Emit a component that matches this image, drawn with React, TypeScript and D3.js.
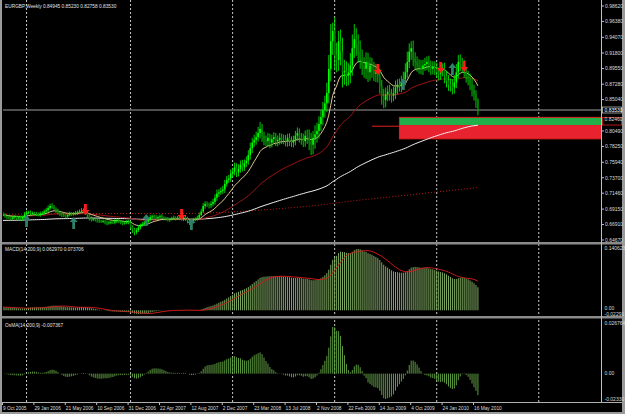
import React, { useMemo } from 'react';
import * as d3 from 'd3';

// ---------- DATA (weekly EURGBP, prices x10000, first bar = 9 Oct 2005) ----------
const firstOpen = 6850;
const closes = [
  6835, 6815, 6800, 6790, 6775, 6795, 6805, 6785, 6790, 6775, 6800, 6840,
  6865, 6870, 6855, 6860, 6850, 6845, 6830, 6850, 6860, 6880, 6900, 6930, 6960,
  6950, 6920, 6890, 6860, 6840, 6830, 6820, 6810, 6830, 6850, 6840, 6850, 6860,
  6870, 6880, 6890, 6880, 6860, 6830, 6780, 6760, 6770, 6760, 6750, 6740, 6735,
  6740, 6720, 6710, 6720, 6730, 6720, 6740, 6750, 6730, 6720, 6710, 6720, 6730,
  6720, 6660, 6620, 6580, 6610, 6650, 6680, 6700, 6720, 6730, 6760, 6800, 6810,
  6800, 6790, 6800, 6810, 6790, 6780, 6770, 6760, 6770, 6780, 6790, 6780, 6790,
  6780, 6770, 6800, 6780, 6750, 6720, 6730, 6760, 6770, 6790, 6830, 6880, 6960,
  6990, 6980, 6970, 6990, 7020, 7080, 7140, 7160, 7180, 7200, 7280, 7340, 7360,
  7430, 7460, 7520, 7450, 7500, 7560, 7520, 7580, 7620, 7700, 7800, 7880, 7920,
  7960, 8020, 8080, 7980, 7920, 7900, 7950, 7880, 7930, 7960, 7900, 7920, 7950,
  7930, 7920, 7900, 7950, 7900, 7880, 7920, 7980, 8020, 7950, 7930, 7900, 7980,
  7960, 7900, 7850, 7950, 8000, 8050, 8150, 8250, 8350, 8450, 8600, 8950, 9350,
  9500, 9150, 9080, 9350, 9200, 8900, 8920, 8850, 8900, 9000, 9250, 9380, 9300,
  9200, 9100, 9000, 8950, 9050, 8900, 9000, 8950, 8880, 8900, 8850, 8700, 8550,
  8500, 8580, 8620, 8580, 8560, 8600, 8680, 8720, 8700, 8750, 8800, 8900, 9050,
  9200, 9250, 9100, 9050, 9000, 8980, 8950, 9000, 9020, 9050, 9000, 8950, 8980,
  8950, 8900, 8880, 8920, 8950, 8850, 8780, 8720, 8700, 8680, 8750, 8900, 9050,
  9020, 8980, 8900, 8850, 8800, 8720, 8650, 8580, 8495, 8353,
];
const wickUp = [
  25, 20, 15, 30, 20, 25, 20, 15, 25, 30, 20, 35,
  30, 20, 25, 20, 15, 25, 20, 30, 25, 30, 35, 40, 35,
  40, 25, 20, 30, 20, 25, 30, 20, 25, 30, 20, 25, 30,
  25, 30, 40, 35, 30, 20, 25, 30, 20, 25, 20, 25, 20,
  25, 20, 30, 25, 20, 25, 30, 20, 25, 20, 25, 20, 25,
  30, 25, 20, 25, 30, 35, 25, 30, 25, 30, 35, 30, 25,
  25, 30, 20, 25, 30, 20, 25, 30, 20, 25, 30, 20, 25,
  30, 45, 25, 30, 25, 20, 25, 30, 25, 30, 35, 40, 45,
  40, 35, 30, 40, 45, 50, 60, 45, 50, 55, 60, 55, 50,
  60, 55, 70, 60, 65, 60, 70, 55, 60, 70, 80, 70, 75,
  80, 90, 100, 70, 60, 65, 70, 60, 65, 70, 60, 65, 70,
  60, 65, 70, 60, 65, 70, 60, 70, 80, 65, 70, 80, 75,
  90, 110, 120, 100, 130, 120, 110, 100, 120, 110, 150, 200, 250,
  120, 200, 180, 150, 170, 200, 160, 140, 130, 180, 200, 220, 160,
  150, 160, 130, 120, 140, 130, 120, 110, 100, 120, 110, 100, 90,
  110, 100, 90, 100, 80, 90, 100, 80, 90, 100, 110, 130, 150,
  120, 100, 110, 90, 80, 90, 100, 80, 90, 80, 90, 70, 80,
  80, 90, 70, 100, 80, 90, 70, 80, 90, 100, 110, 120, 100,
  110, 90, 100, 80, 70, 80, 90, 70, 60, 28,
];
const wickDown = [
  20, 25, 30, 20, 25, 15, 20, 30, 20, 25, 30, 20,
  20, 25, 30, 20, 25, 30, 20, 25, 20, 25, 20, 30, 25,
  30, 25, 30, 20, 25, 30, 20, 25, 30, 20, 25, 20, 25,
  30, 25, 20, 25, 30, 35, 30, 25, 20, 25, 30, 25, 20,
  20, 25, 30, 20, 25, 20, 25, 30, 20, 25, 30, 20, 25,
  25, 40, 50, 45, 30, 25, 30, 20, 25, 30, 20, 25, 30,
  20, 25, 30, 20, 25, 30, 20, 25, 30, 20, 25, 30, 20,
  25, 20, 30, 35, 40, 35, 30, 25, 20, 25, 30, 20, 25,
  40, 35, 45, 40, 35, 40, 45, 50, 40, 45, 50, 40, 45,
  50, 60, 55, 70, 60, 55, 60, 50, 55, 60, 65, 70, 60,
  70, 65, 80, 90, 80, 70, 75, 80, 70, 65, 70, 75, 70,
  70, 65, 75, 80, 70, 65, 70, 80, 75, 70, 80, 85, 80,
  100, 130, 150, 140, 160, 120, 110, 100, 120, 110, 130, 150, 180,
  200, 220, 180, 160, 200, 220, 180, 150, 140, 160, 150, 140, 160,
  160, 150, 140, 130, 150, 140, 120, 130, 110, 120, 100, 110, 120,
  120, 110, 100, 90, 100, 80, 90, 100, 80, 90, 100, 90, 80,
  90, 120, 110, 100, 90, 100, 80, 90, 80, 90, 100, 90, 80,
  90, 80, 100, 90, 80, 110, 100, 90, 80, 100, 90, 80, 90,
  100, 90, 80, 100, 90, 80, 100, 90, 110, 77,
];

// indicator seeds (values of the averages at the first visible bar)
const seedFast = 0.683;   // EMA 14
const seedMid = 0.682;    // EMA 55
const seedSlow = 0.675;   // EMA 200
// long dotted average at some weeks
const longMaWeeks = [0, 20, 40, 60, 80, 100, 120, 140, 160, 180, 200, 220, 242];
const longMaValues = [0.684, 0.6845, 0.685, 0.685, 0.685, 0.6855, 0.688, 0.692, 0.697, 0.704, 0.710, 0.716, 0.723];

const timeLabelWeeks = [0, 16, 32, 48, 64, 80, 96, 112, 128, 144, 160, 176, 192, 208, 224, 240];
const timeLabels = ['9 Oct 2005', '29 Jan 2006', '21 May 2006', '10 Sep 2006', '31 Dec 2006', '22 Apr 2007',
  '12 Aug 2007', '2 Dec 2007', '23 Mar 2008', '13 Jul 2008', '2 Nov 2008', '22 Feb 2009', '14 Jun 2009',
  '4 Oct 2009', '24 Jan 2010', '16 May 2010'];
const gridWeeks = [12, 65, 117, 169, 221, 273];
const priceTicks = [0.9862, 0.9638, 0.9407, 0.918, 0.8955, 0.8728, 0.8504, 0.8049, 0.7825, 0.7594, 0.737, 0.7146, 0.6915, 0.6691, 0.6467];
// signal arrows: week and the price of the arrow tip
const redArrowWeeks = [42, 91, 191, 223, 235];
const redArrowPrices = [0.683, 0.6757, 0.886, 0.889, 0.8905];
const tealArrowWeeks = [12, 36, 73, 96, 204, 229];
const tealArrowPrices = [0.683, 0.680, 0.6844, 0.6786, 0.8818, 0.9035];
const bidPrice = 0.8353;
const zoneTop = 0.8246, zoneMid = 0.8135, zoneBottom = 0.7935, zoneLine = 0.8118;
const zoneStartWeek = 202, zoneLineStartWeek = 188;
const macdMax = 0.140623, macdMin = -0.02291;
const osmaMax = 0.026764, osmaMin = -0.0233;

const header = 'EURGBP,Weekly  0.84945 0.85230 0.82758 0.83530';
const macdTitle = 'MACD(14,200,9) 0.062970 0.073706';
const osmaTitle = 'OsMA(14,200,9) -0.007367';

function ema(vals: number[], period: number, seed: number) {
  const k = 2 / (period + 1);
  let e = seed;
  return vals.map(v => (e = e + k * (v - e)));
}

const FONT = 'Liberation Sans, Arial, sans-serif';

export default function App() {
  const W = 625, H = 414;
  const AXIS_X = 601.5;

  const d = useMemo(() => {
    const c = closes.map(v => v / 10000);
    const bars = c.map((close, i) => {
      const open = i === 0 ? firstOpen / 10000 : c[i - 1];
      const high = Math.max(open, close) + wickUp[i] / 10000;
      const low = Math.min(open, close) - wickDown[i] / 10000;
      return { i, open, close, high, low };
    });
    const fast = ema(c, 14, seedFast);
    const mid = ema(c, 55, seedMid);
    const slow = ema(c, 200, seedSlow);
    const macd = fast.map((f, i) => f - slow[i]);
    const signal = macd.map((_, i) => {
      const s = macd.slice(Math.max(0, i - 8), i + 1);
      return d3.mean(s) as number;
    });
    const osma = macd.map((m, i) => m - signal[i]);
    return { bars, fast, mid, slow, macd, signal, osma };
  }, []);

  const x = d3.scaleLinear().domain([0, 100]).range([3, 3 + 196.25]);
  const y = d3.scaleLinear().domain([0.6467, 0.9862]).range([240, 6]);
  // sub-windows scale to the extent of their own data (as the terminal does)
  const macdExt = d3.extent([...d.macd, ...d.signal]) as [number, number];
  const osmaExt = d3.extent(d.osma) as [number, number];
  const yM = d3.scaleLinear().domain(macdExt).range([314, 249]);
  const yO = d3.scaleLinear().domain(osmaExt).range([399, 327]);

  const lineOf = (arr: number[]) =>
    d3.line<number>().x((_, i) => x(i)).y(v => y(v))(arr) as string;
  const longLine = d3.line<number>().x((_, k) => x(longMaWeeks[k])).y(v => y(v)).curve(d3.curveMonotoneX)(longMaValues) as string;
  const signalLine = d3.line<number>().x((_, i) => x(i)).y(v => yM(v))(d.signal) as string;

  const downArrow = (cx: number, tipY: number) =>
    `M${cx},${tipY} L${cx - 4},${tipY - 5} L${cx - 1.4},${tipY - 5} L${cx - 1.4},${tipY - 11} L${cx + 1.4},${tipY - 11} L${cx + 1.4},${tipY - 5} L${cx + 4},${tipY - 5} Z`;
  const upArrow = (cx: number, tipY: number) =>
    `M${cx},${tipY} L${cx - 4},${tipY + 5} L${cx - 1.4},${tipY + 5} L${cx - 1.4},${tipY + 12} L${cx + 1.4},${tipY + 12} L${cx + 1.4},${tipY + 5} L${cx + 4},${tipY + 5} Z`;

  const zx = x(zoneStartWeek);

  return (
    <svg width={W} height={H} style={{ position: 'absolute', left: 0, top: 0, display: 'block' }}
      fontFamily={FONT}>
      <rect x={0} y={0} width={W} height={H} fill="#000" />
      <defs>
        <clipPath id="mainClip"><rect x={3} y={0} width={AXIS_X - 3} height={242} /></clipPath>
        <clipPath id="macdClip"><rect x={3} y={245} width={AXIS_X - 3} height={71} /></clipPath>
        <clipPath id="osmaClip"><rect x={3} y={319} width={AXIS_X - 3} height={83} /></clipPath>
      </defs>

      {/* grid */}
      {gridWeeks.map(g => (
        <line key={g} x1={x(g)} x2={x(g)} y1={0} y2={402} stroke="#c8c8c8" strokeWidth={1} strokeDasharray="2,2" />
      ))}

      <g clipPath="url(#mainClip)">
        {/* bid line */}
        <line x1={3} x2={AXIS_X} y1={y(bidPrice)} y2={y(bidPrice)} stroke="#6a6a6a" strokeWidth={1.5} />
        {/* zone */}
        <line x1={x(zoneLineStartWeek)} x2={zx} y1={y(zoneLine)} y2={y(zoneLine)} stroke="#e02020" strokeWidth={1} />
        <rect x={zx} y={y(zoneTop)} width={AXIS_X - zx} height={y(zoneMid) - y(zoneTop)} fill="#22b04a" />
        <rect x={zx} y={y(zoneMid)} width={AXIS_X - zx} height={y(zoneBottom) - y(zoneMid)} fill="#e8222e" />
        <rect x={zx} y={y(zoneTop)} width={AXIS_X - zx + 30} height={y(zoneBottom) - y(zoneTop)} fill="none" stroke="#e02020" strokeWidth={1} />

        {/* moving averages */}
        <path d={longLine} fill="none" stroke="#c01818" strokeWidth={1} strokeDasharray="1,2" />
        <path d={lineOf(d.slow)} fill="none" stroke="#f0f0f0" strokeWidth={1} />
        <path d={lineOf(d.mid)} fill="none" stroke="#a01414" strokeWidth={1} />
        <path d={lineOf(d.fast)} fill="none" stroke="#d9c98f" strokeWidth={1} />

        {/* candles */}
        {d.bars.map(b => {
          const cx = x(b.i);
          const up = b.close >= b.open;
          const top = y(Math.max(b.open, b.close));
          const bot = y(Math.min(b.open, b.close));
          return (
            <g key={b.i}>
              <line x1={cx} x2={cx} y1={y(b.high)} y2={y(b.low)} stroke="#00e000" strokeWidth={0.9} />
              <rect x={cx - 0.8} y={top} width={1.6} height={Math.max(0.8, bot - top)}
                fill={up ? '#00ff00' : '#0b7a0b'} />
            </g>
          );
        })}

        {/* arrows */}
        {redArrowWeeks.map((w, k) => (
          <path key={'r' + w} d={downArrow(x(w), y(redArrowPrices[k]))} fill="#ff1a1a" />
        ))}
        {tealArrowWeeks.map((w, k) => (
          <path key={'t' + w} d={upArrow(x(w), y(tealArrowPrices[k]))} fill="#2f8068" />
        ))}
      </g>

      {/* MACD */}
      <g clipPath="url(#macdClip)">
        {d.macd.map((m, i) => (
          <line key={'m' + i} x1={x(i)} x2={x(i)} y1={yM(0)} y2={yM(m)} stroke="#7fa862" strokeWidth={1} />
        ))}
        <path d={signalLine} fill="none" stroke="#cc1a1a" strokeWidth={1} />
      </g>

      {/* OsMA */}
      <g clipPath="url(#osmaClip)">
        {d.osma.map((m, i) => (
          <line key={'o' + i} x1={x(i)} x2={x(i)} y1={yO(0)} y2={yO(m)} stroke="#5e9a40" strokeWidth={1} />
        ))}
      </g>

      {/* panel frames */}
      <rect x={0} y={0} width={2} height={H} fill="#9a9a9a" />
      <rect x={622} y={0} width={3} height={H} fill="#9a9a9a" />
      <rect x={2} y={242} width={620} height={2.5} fill="#8a8a8a" />
      <rect x={2} y={316} width={620} height={2.5} fill="#8a8a8a" />
      <line x1={2} x2={622} y1={402.5} y2={402.5} stroke="#b0b0b0" strokeWidth={1} />
      <rect x={2} y={412} width={620} height={2} fill="#9a9a9a" />
      <line x1={AXIS_X} x2={AXIS_X} y1={0} y2={402} stroke="#c0c0c0" strokeWidth={1} />

      {/* price axis */}
      {priceTicks.map(p => (
        <g key={p}>
          <line x1={AXIS_X} x2={AXIS_X + 2.5} y1={y(p)} y2={y(p)} stroke="#c0c0c0" />
          <text x={AXIS_X + 3.5} y={y(p) + 1.8} fontSize={5} fill="#dcdcdc">{p.toFixed(5)}</text>
        </g>
      ))}
      {/* bid label */}
      <rect x={AXIS_X + 1} y={y(bidPrice) - 3} width={19} height={6} fill="#000" stroke="#d0d0d0" strokeWidth={0.7} />
      <text x={AXIS_X + 3} y={y(bidPrice) + 1.8} fontSize={5} fill="#ffffff">{bidPrice.toFixed(5)}</text>
      {/* zone labels on axis */}
      <rect x={AXIS_X + 1} y={y(zoneTop)} width={19} height={y(zoneMid) - y(zoneTop)} fill="#000" stroke="#e02020" strokeWidth={0.8} />
      <text x={AXIS_X + 3} y={y(zoneTop) + 4} fontSize={5} fill="#dcdcdc">{zoneTop.toFixed(5)}</text>

      {/* MACD axis */}
      <text x={AXIS_X + 3} y={250} fontSize={5} fill="#dcdcdc">{macdMax.toFixed(6)}</text>
      <text x={AXIS_X + 3} y={309.5} fontSize={5} fill="#dcdcdc">0.00</text>
      <text x={AXIS_X + 3} y={315.5} fontSize={5} fill="#dcdcdc">{macdMin.toFixed(5)}</text>
      {/* OsMA axis */}
      <text x={AXIS_X + 3} y={325} fontSize={5} fill="#dcdcdc">{osmaMax.toFixed(6)}</text>
      <text x={AXIS_X + 3} y={yO(0) + 1.8} fontSize={5} fill="#dcdcdc">0.00</text>
      <text x={AXIS_X + 3} y={401} fontSize={5} fill="#dcdcdc">{osmaMin.toFixed(5)}</text>

      {/* time axis */}
      {timeLabelWeeks.map((w, k) => (
        <g key={w}>
          <line x1={x(w) - 0.5} x2={x(w) - 0.5} y1={402.5} y2={405} stroke="#c0c0c0" />
          <text x={x(w)} y={410} fontSize={4.8} fill="#dcdcdc">{timeLabels[k]}</text>
        </g>
      ))}

      {/* titles */}
      <text x={5} y={8} fontSize={4.8} fill="#e0e0e0">{header}</text>
      <text x={5} y={251} fontSize={4.8} fill="#e0e0e0">{macdTitle}</text>
      <text x={5} y={327} fontSize={4.8} fill="#e0e0e0">{osmaTitle}</text>
    </svg>
  );
}
